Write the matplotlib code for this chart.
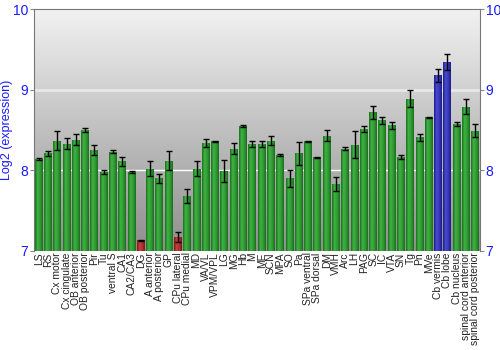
import numpy as np
import matplotlib
matplotlib.use("Agg")
import matplotlib.pyplot as plt
from matplotlib.colors import LinearSegmentedColormap

plt.rcParams["font.family"] = ["Liberation Sans", "DejaVu Sans"]

# regions, mean log2 expression and error
regions = ["LS", "RS", "Cx motor", "Cx cingulate", "OB anterior", "OB posterior",
           "Pir", "Tu", "ventral S", "CA1", "CA2/CA3", "DG", "A anterior",
           "A posterior", "GP", "CPu lateral", "CPu medial", "MD", "VA/VL",
           "VPM/VPL", "LG", "MG", "Hb", "M", "ME", "SCN", "MPA", "SO", "Pa",
           "SPa ventral", "SPa dorsal", "DM", "VMH", "Arc", "LH", "PAG", "SC",
           "IC", "VTA", "SN", "Tg", "Pn", "MVe", "Cb vermis", "Cb lobe",
           "Cb nucleus", "spinal cord anterior", "spinal cord posterior"]
values = [8.14, 8.21, 8.37, 8.33, 8.38, 8.50, 8.25, 7.98, 8.23, 8.11, 7.98, 7.13,
          8.02, 7.90, 8.12, 7.17, 7.68, 8.02, 8.34, 8.36, 7.99, 8.27, 8.55, 8.33,
          8.33, 8.37, 8.19, 7.90, 8.21, 8.36, 8.16, 8.43, 7.83, 8.27, 8.32, 8.51,
          8.72, 8.62, 8.56, 8.17, 8.89, 8.41, 8.66, 9.18, 9.34, 8.57, 8.79, 8.49]
errors = [0.015, 0.03, 0.12, 0.07, 0.07, 0.02, 0.06, 0.03, 0.02, 0.06, 0.01, 0.01,
          0.09, 0.06, 0.12, 0.06, 0.085, 0.095, 0.045, 0.01, 0.14, 0.07, 0.01, 0.035,
          0.035, 0.05, 0.01, 0.11, 0.14, 0.005, 0.005, 0.07, 0.09, 0.02, 0.17, 0.04,
          0.08, 0.04, 0.045, 0.025, 0.11, 0.045, 0.005, 0.08, 0.10, 0.025, 0.09, 0.08]
low_regions = ["DG", "CPu lateral"]
high_regions = ["Cb vermis", "Cb lobe"]

fig = plt.figure(figsize=(5, 3.5), dpi=100)
ax = fig.add_axes([0.068, 0.283, 0.892, 0.691])

x = np.arange(len(regions))
ax.set_xlim(-0.5, len(regions) - 0.5)
ax.set_ylim(7, 10)

# background gradient
bg = LinearSegmentedColormap.from_list("bg", ["#8e8e8e", "#f2f2f2"])
ax.imshow(np.linspace(0, 1, 256).reshape(-1, 1), cmap=bg, aspect="auto",
          extent=[-0.5, len(regions) - 0.5, 7, 10], origin="lower", zorder=0)
ax.axhline(9, color="#e8e8e8", lw=2, zorder=1)
ax.axhline(8, color="white", lw=1, zorder=1)

green = LinearSegmentedColormap.from_list("g", ["#1c6e1c", "#3fb444", "#2e9a33", "#1c6e1c"])
red = LinearSegmentedColormap.from_list("r", ["#7a1818", "#c84040", "#b03030", "#7a1818"])
blue = LinearSegmentedColormap.from_list("b", ["#1c1c88", "#4a4ad0", "#3838b8", "#1c1c88"])
grad = np.linspace(0, 1, 64).reshape(1, -1)

bars = ax.bar(x, np.array(values) - 7, bottom=7, width=0.86, color="none",
              edgecolor="none", zorder=2)
for name, b in zip(regions, bars):
    cm = red if name in low_regions else blue if name in high_regions else green
    im = ax.imshow(grad, cmap=cm, aspect="auto", zorder=2,
                   extent=[b.get_x(), b.get_x() + b.get_width(), 7, b.get_y() + b.get_height()])
    im.set_clip_path(b)

ax.errorbar(x, values, yerr=errors, fmt="none", ecolor="black", elinewidth=1,
            capsize=2.2, capthick=1, zorder=3)

ax.set_xticks(x)
ax.set_xticklabels(regions, rotation=90, fontsize=7.4, color="#222222")
ax.tick_params(axis="x", length=0, pad=1)
ax.set_yticks([7, 8, 9, 10])
ax.tick_params(axis="y", colors="#888888", labelcolor="#1a1aff", labelsize=10,
               length=3, right=True, labelright=True, pad=1)
ax.set_ylabel("Log2 (expression)", color="#1a1aff", fontsize=9)
ax.yaxis.set_label_coords(-0.047, 0.5)
for s in ["left", "right", "top"]:
    ax.spines[s].set_color("#777777")
ax.spines["bottom"].set_visible(False)

fig.savefig("out.png", dpi=100)
